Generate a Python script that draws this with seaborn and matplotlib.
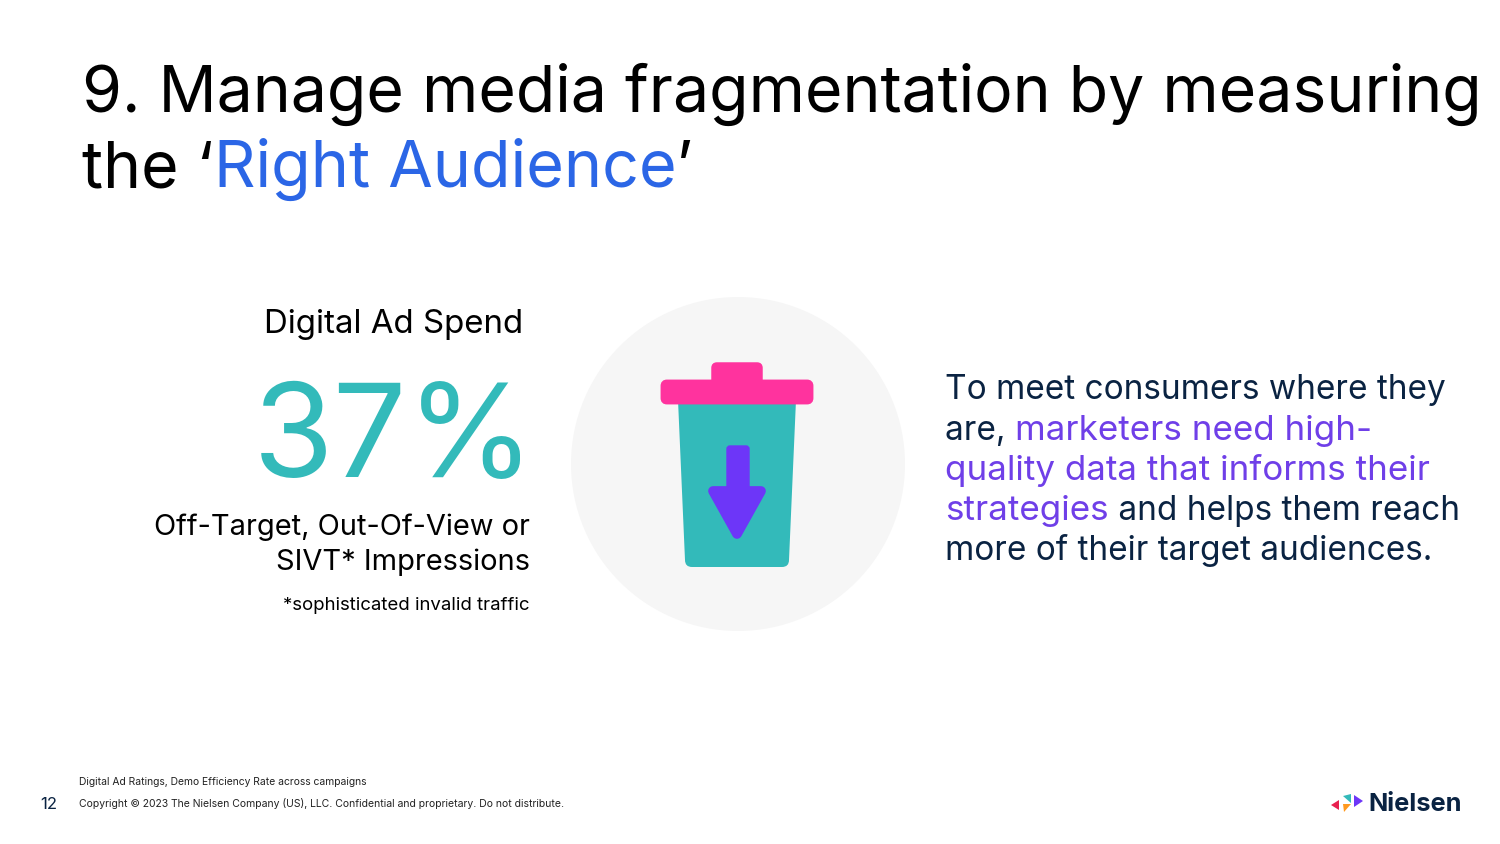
import matplotlib
matplotlib.use("Agg")
import matplotlib.pyplot as plt
import seaborn as sns
from matplotlib.patches import Circle, FancyBboxPatch, Polygon, PathPatch
from matplotlib.path import Path

sns.set_theme(style="white")
plt.rcParams['font.family'] = ['Inter', 'DejaVu Sans']

BLACK = "#000000"; BLUE = "#2B66E6"; TEAL = "#33BABA"; NAVY = "#0A2342"
PURPLE = "#6F3FE8"; PINK = "#FF339E"; ARROW = "#6D36F8"

title_lines = [[("9. Manage media fragmentation by measuring", BLACK)],
               [("the ‘", BLACK), ("Right Audience", BLUE), ("’", BLACK)]]
kpi_label = "Digital Ad Spend"
kpi_value = "37%"
kpi_desc = ["Off-Target, Out-Of-View or", "SIVT* Impressions"]
kpi_note = "*sophisticated invalid traffic"
body_lines = [[("To meet consumers where they", NAVY)],
              [("are, ", NAVY), ("marketers need high-", PURPLE)],
              [("quality data that informs their", PURPLE)],
              [("strategies", PURPLE), (" and helps them reach", NAVY)],
              [("more of their target audiences.", NAVY)]]
source = "Digital Ad Ratings, Demo Efficiency Rate across campaigns"
copyright_text = "Copyright © 2023 The Nielsen Company (US), LLC. Confidential and proprietary. Do not distribute."
page = "12"
brand = "Nielsen"

fig = plt.figure(figsize=(15, 8.44), dpi=100, facecolor="white")
ax = fig.add_axes([0, 0, 1, 1])
ax.set_xlim(0, 1500); ax.set_ylim(844, 0); ax.axis("off")
r = fig.canvas.get_renderer()

def segs(x, y, parts, size, sizes=None):
    """Draw coloured runs along one baseline."""
    sizes = sizes or {}
    for s, c in parts:
        t = ax.text(x, y, s.replace(" ", "\u00a0"), fontsize=sizes.get(c, size), color=c,
                    va="baseline", ha="left")
        x += t.get_window_extent(r).width

segs(82, 112, title_lines[0], 46.3)
segs(82, 187, title_lines[1], 46.3, {BLUE: 46.5})

ax.text(523, 333, kpi_label, fontsize=23.8, color=BLACK, ha="right", va="baseline")
ax.text(535, 477, kpi_value, fontsize=94, color=TEAL, ha="right", va="baseline")
ax.text(529.5, 535, kpi_desc[0], fontsize=20.9, color=BLACK, ha="right", va="baseline")
ax.text(529.5, 570, kpi_desc[1], fontsize=20.9, color=BLACK, ha="right", va="baseline")
ax.text(529.5, 610, kpi_note, fontsize=13.4, color=BLACK, ha="right", va="baseline")

ax.add_patch(Circle((738, 464), 167, fc="#F6F6F6", ec="none"))
# bin body
ax.add_patch(PathPatch(Path([(678, 400), (796, 400), (789, 560), (789, 567), (782, 567), (692, 567), (685, 567), (685, 560), (678, 400)],
                            [1, 2, 2, 3, 3, 2, 3, 3, 2]), fc=TEAL, ec="none"))
# lid
ax.add_patch(FancyBboxPatch((663, 382), 148, 20, boxstyle="round,pad=0,rounding_size=4", fc=PINK, ec=PINK, lw=3.5))
ax.add_patch(FancyBboxPatch((713, 364), 48, 24, boxstyle="round,pad=0,rounding_size=4", fc=PINK, ec=PINK, lw=2.5))
# arrow
ax.add_patch(FancyBboxPatch((727, 446), 22, 50, boxstyle="round,pad=0,rounding_size=3", fc=ARROW, ec=ARROW, lw=1))
ax.add_patch(Polygon([(713, 491), (761, 491), (737, 534)], closed=True, fc=ARROW, ec=ARROW, lw=7, joinstyle="round"))

for i, line in enumerate(body_lines):
    segs(945, 399.5 + i * 40.2, line, 24, {PURPLE: 25.2})

ax.text(79, 785, source, fontsize=7.43, color="#222222", ha="left", va="baseline")
ax.text(79, 807, copyright_text, fontsize=7.5, color="#222222", ha="left", va="baseline")
ax.text(40, 809, page, fontsize=12, color=NAVY, ha="left", va="baseline")

# logo
ax.add_patch(Polygon([(1331, 805), (1339, 800), (1339, 810)], fc="#E8204F", ec="none"))
ax.add_patch(Polygon([(1343, 796), (1351, 794), (1351, 803)], fc=TEAL, ec="none"))
ax.add_patch(Polygon([(1343, 804), (1351, 804), (1344, 812)], fc="#FF9A1F", ec="none"))
ax.add_patch(Polygon([(1354, 795), (1363, 801), (1354, 807)], fc=ARROW, ec="none"))
ax.text(1368, 811, brand, fontsize=18.3, color=NAVY, ha="left", va="baseline", fontweight="bold")

fig.savefig("out.png", dpi=100, facecolor="white")
